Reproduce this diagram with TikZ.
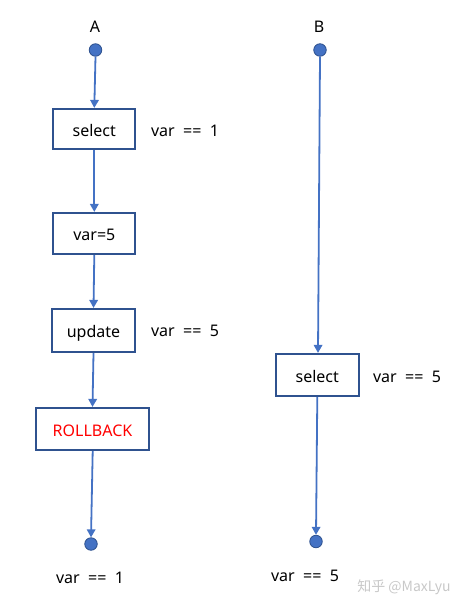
\documentclass[tikz,border=0pt]{standalone}
\usepackage{fontspec}
\setmainfont{Noto Sans}
\newfontfamily\cjkfont{Noto Sans CJK SC}
\usetikzlibrary{arrows.meta}
\definecolor{lineblue}{HTML}{4472C4}
\definecolor{boxblue}{HTML}{2F528F}
\definecolor{rbred}{HTML}{FF0000}
\definecolor{wmgray}{HTML}{C8C8C8}
\tikzset{
  every node/.style={font=\fontsize{16}{19}\selectfont, text=black},
  dot/.style={circle, fill=lineblue, draw=boxblue, line width=0.8pt, minimum size=12.5pt, inner sep=0pt},
  stepbox/.style={draw=boxblue, line width=2.2pt, fill=white, inner sep=0pt, text height=14pt, text depth=0pt},
  conn/.style={draw=lineblue, line width=1.8pt, -{Triangle[length=8pt,width=8.5pt]}},
  lbl/.style={inner sep=0pt}
}
\begin{document}
\begin{tikzpicture}[x=1pt,y=-1pt]
\useasboundingbox (0,0) rectangle (462,607);
% column A
\node[lbl] (la) at (95,27) {A};
\node[dot] (a0) at (95.5,50) {};
\node[stepbox, minimum width=82pt, minimum height=40pt] (a1) at (94.3,129) {select};
\node[lbl] (v1) at (185,131) {var\ \ ==\ \ 1};
\node[stepbox, minimum width=82pt, minimum height=41pt] (a2) at (94.3,233.5) {var=5};
\node[stepbox, minimum width=83.5pt, minimum height=43pt] (a3) at (93.5,330.5) {update};
\node[lbl] (v2) at (185,331) {var\ \ ==\ \ 5};
\node[stepbox, minimum width=113.5pt, minimum height=42pt] (a4) at (92.5,429) {\color{rbred}ROLLBACK};
\node[dot] (a5) at (91,544) {};
\node[lbl] (v3) at (90,578) {var\ \ ==\ \ 1};
\draw[conn] (a0.south) -- (a1.north);
\draw[conn] (a1.south) -- (a2.north);
\draw[conn] (a2.south) -- (a3.north);
\draw[conn] (a3.south) -- (a4.north);
\draw[conn] ([xshift=0.2pt]a4.south) -- (a5.north);
% column B
\node[lbl] (lb) at (319,27) {B};
\node[dot] (b0) at (320,50) {};
\node[stepbox, minimum width=83pt, minimum height=42pt] (b1) at (317.3,375) {select};
\node[lbl] (v4) at (407,377) {var\ \ ==\ \ 5};
\node[dot] (b2) at (316,541.5) {};
\node[lbl] (v5) at (305,576) {var\ \ ==\ \ 5};
\draw[conn] (b0.south) -- ([xshift=0.7pt]b1.north);
\draw[conn] (b1.south) -- (b2.north);
% watermark
\node[lbl, text=wmgray, font=\cjkfont\fontsize{14}{16}\selectfont] (wm) at (404,587) {知乎 @MaxLyu};
\end{tikzpicture}
\end{document}
